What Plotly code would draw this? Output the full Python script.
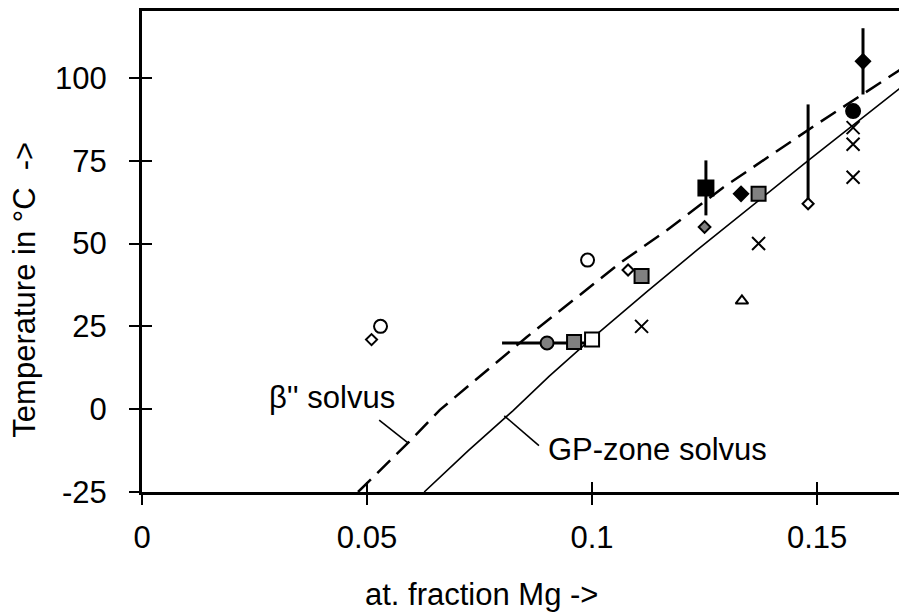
import plotly.graph_objects as go

# ---- data ----
beta_solvus_x = [0.048, 0.0591, 0.0662, 0.0760, 0.0855, 0.0973, 0.1062, 0.1167, 0.129, 0.149, 0.1685]
beta_solvus_y = [-25, -10.2, -0.2, 11.0, 21.8, 34.5, 44.1, 54.1, 66.8, 85.2, 102.5]

gp_solvus_x = [0.0627, 0.0725, 0.0824, 0.0905, 0.0988, 0.1122, 0.1233, 0.1378, 0.148, 0.1685]
gp_solvus_y = [-25, -12.5, -0.5, 10.0, 20.0, 35.5, 48.0, 64.0, 75.0, 97.0]

beta_leader_x = [0.0527, 0.0591]
beta_leader_y = [-3.3, -10.2]
gp_leader_x = [0.0805, 0.0882]
gp_leader_y = [-2.0, -11.0]

cross_x = [0.111, 0.137, 0.158, 0.158, 0.158]
cross_y = [25, 50, 85, 80, 70]

open_circle_x = [0.053, 0.099]
open_circle_y = [25, 45]

open_diamond_x = [0.051, 0.108]
open_diamond_y = [21, 42]

open_diamond_err_x = [0.148]
open_diamond_err_y = [62]
open_diamond_err_plus = [30]
open_diamond_err_minus = [0]

gray_square_x = [0.096, 0.111, 0.137]
gray_square_y = [20.3, 40.2, 65]

open_square_x = [0.100]
open_square_y = [21]

gray_circle_x = [0.090]
gray_circle_y = [20]
gray_circle_xerr = [0.01]

black_circle_x = [0.158]
black_circle_y = [90]

black_square_x = [0.1253]
black_square_y = [66.8]
black_square_yerr = [8.3]

black_diamond_x = [0.1331]
black_diamond_y = [65]

black_diamond_err_x = [0.1602]
black_diamond_err_y = [105]
black_diamond_err = [10]

gray_diamond_x = [0.125]
gray_diamond_y = [55]

open_triangle_x = [0.1333]
open_triangle_y = [32.7]

x_ticks = [0, 0.05, 0.1, 0.15]
x_ticktext = ["0", "0.05", "0.1", "0.15"]
y_ticks = [-25, 0, 25, 50, 75, 100]
y_ticktext = ["-25", "0", "25", "50", "75", "100"]

X_RANGE = [0, 0.1682]
Y_RANGE = [-25, 120.2]

FONT = "Liberation Sans, Arial, sans-serif"
FS = 31
GRAY = "#808080"

fig = go.Figure()

# curves
fig.add_trace(go.Scatter(x=beta_solvus_x, y=beta_solvus_y, mode="lines",
                         line=dict(color="black", width=2.5, dash="18px,9px")))
fig.add_trace(go.Scatter(x=gp_solvus_x, y=gp_solvus_y, mode="lines",
                         line=dict(color="black", width=1.6)))
fig.add_trace(go.Scatter(x=beta_leader_x, y=beta_leader_y, mode="lines",
                         line=dict(color="black", width=1.6)))
fig.add_trace(go.Scatter(x=gp_leader_x, y=gp_leader_y, mode="lines",
                         line=dict(color="black", width=1.6)))

def pts(x, y, symbol, size, fill, lw=2, err_x=None, err_y=None):
    kw = dict(x=x, y=y, mode="markers",
              marker=dict(symbol=symbol, size=size, color=fill,
                          line=dict(color="black", width=lw)))
    if err_x is not None:
        kw["error_x"] = err_x
    if err_y is not None:
        kw["error_y"] = err_y
    fig.add_trace(go.Scatter(**kw))

pts(cross_x, cross_y, "x-thin", 13, "black", lw=2)
pts(open_circle_x, open_circle_y, "circle", 13, "white")
pts(open_diamond_x, open_diamond_y, "diamond", 8.5, "white")
pts(open_diamond_err_x, open_diamond_err_y, "diamond", 8.5, "white",
    err_y=dict(type="data", symmetric=False, array=open_diamond_err_plus,
               arrayminus=open_diamond_err_minus, color="black", thickness=3, width=0))
pts(gray_circle_x, gray_circle_y, "circle", 13, GRAY,
    err_x=dict(type="data", array=gray_circle_xerr, color="black", thickness=3, width=0))
pts(gray_square_x, gray_square_y, "square", 14, GRAY)
pts(open_square_x, open_square_y, "square", 14, "white")
pts(black_circle_x, black_circle_y, "circle", 14, "black")
pts(black_square_x, black_square_y, "square", 15, "black",
    err_y=dict(type="data", array=black_square_yerr, color="black", thickness=3, width=0))
pts(black_diamond_x, black_diamond_y, "diamond", 11, "black")
pts(black_diamond_err_x, black_diamond_err_y, "diamond", 11, "black",
    err_y=dict(type="data", array=black_diamond_err, color="black", thickness=3, width=0))
pts(gray_diamond_x, gray_diamond_y, "diamond", 9, GRAY)
pts(open_triangle_x, open_triangle_y, "triangle-up", 11, "white")

# invisible trace for the overlay axes (inner half of crossing ticks)
fig.add_trace(go.Scatter(x=[None], y=[None], xaxis="x2", yaxis="y2",
                         mode="markers", showlegend=False, hoverinfo="skip"))

fig.add_annotation(x=0.0278, y=3.4, xref="x", yref="y", text="β'' solvus",
                   showarrow=False, xanchor="left", yanchor="middle",
                   font=dict(family=FONT, size=FS, color="black"))
fig.add_annotation(x=0.0898, y=-12.3, xref="x", yref="y", text="GP-zone solvus",
                   showarrow=False, xanchor="left", yanchor="middle",
                   font=dict(family=FONT, size=FS, color="black"))
# axis titles
fig.add_annotation(x=0.449, y=-0.214, xref="paper", yref="paper",
                   text="at. fraction Mg ->", showarrow=False,
                   xanchor="center", yanchor="middle",
                   font=dict(family=FONT, size=FS, color="black"))
fig.add_annotation(x=-0.155, y=0.42, xref="paper", yref="paper",
                   text="Temperature in °C  ->", showarrow=False, textangle=-90,
                   xanchor="center", yanchor="middle",
                   font=dict(family=FONT, size=FS, color="black"))

axis_common = dict(showgrid=False, zeroline=False)
fig.update_layout(
    width=899, height=612,
    margin=dict(l=142, r=0, t=11, b=120),
    paper_bgcolor="white", plot_bgcolor="white",
    showlegend=False,
    font=dict(family=FONT, size=FS, color="black"),
    xaxis=dict(range=X_RANGE, tickvals=x_ticks, ticktext=x_ticktext,
               ticks="outside", ticklen=10, tickwidth=2, tickcolor="black",
               showline=True, linewidth=3, linecolor="black", mirror=True,
               ticklabelstandoff=6, **axis_common),
    yaxis=dict(range=Y_RANGE, tickvals=y_ticks, ticktext=y_ticktext,
               ticks="outside", ticklen=10, tickwidth=2, tickcolor="black",
               showline=True, linewidth=3, linecolor="black",
               ticklabelstandoff=16, **axis_common),
    xaxis2=dict(range=X_RANGE, overlaying="x", anchor="y2", side="bottom",
                tickvals=x_ticks, ticks="inside", ticklen=10, tickwidth=2,
                tickcolor="black", showticklabels=False, showline=False,
                **axis_common),
    yaxis2=dict(range=Y_RANGE, overlaying="y", anchor="x2", side="left",
                tickvals=y_ticks, ticks="inside", ticklen=10, tickwidth=2,
                tickcolor="black", showticklabels=False, showline=False,
                **axis_common),
)

fig.write_html("out.html")
